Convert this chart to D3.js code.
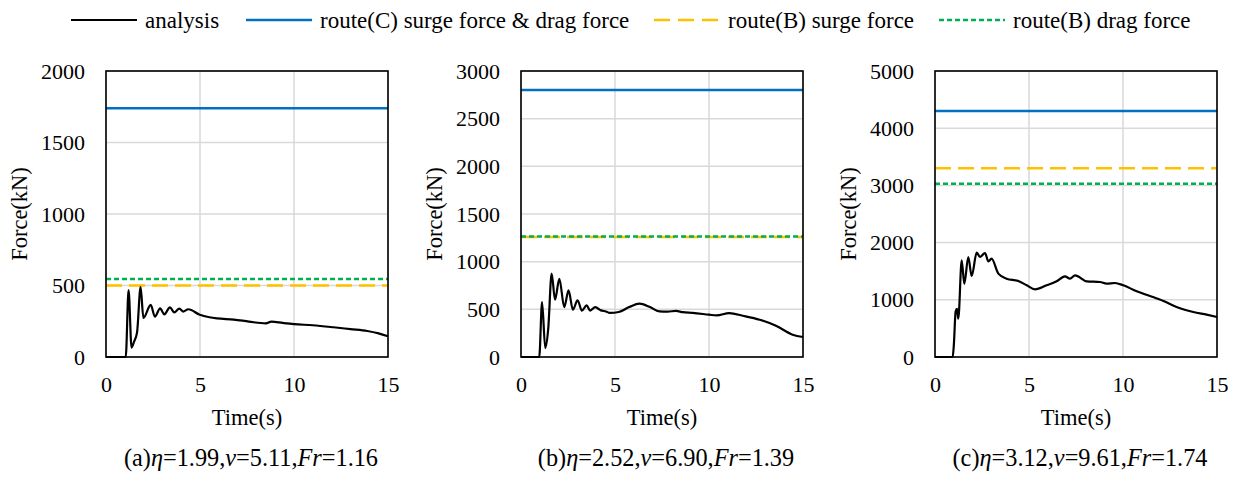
<!DOCTYPE html>
<html>
<head>
<meta charset="utf-8">
<script src="https://cdn.jsdelivr.net/npm/d3@7"></script>
<style>
  body { margin: 0; background: #fff; }
  text { font-family: "Liberation Serif", "Times New Roman", serif; fill: #000; }
  .tick text { font-family: "Liberation Serif", "Times New Roman", serif; font-size: 22px; fill: #000; }
</style>
</head>
<body>
<svg id="chart" width="1233" height="477"></svg>
<script>
// time (s) / force (kN)
var timeA  = [0, 1.05, 1.2, 1.36, 1.5, 1.65, 1.84, 1.99, 2.38, 2.6, 2.88, 3.1, 3.4, 3.63, 3.9, 4.1, 4.38, 4.99, 5.5, 5.9, 6.8, 7.6, 8.5, 8.8, 9.4, 10, 11, 12.1, 13, 13.9, 14.5, 15]
var forceA = [0, 0, 468, 66, 110, 170, 488, 273, 364, 283, 340, 298, 347, 312, 338, 318, 334, 295, 278, 270, 262, 248, 235, 247, 238, 230, 222, 208, 195, 182, 165, 145]

var timeB  = [0, 0.97, 1.12, 1.29, 1.45, 1.63, 1.81, 2.04, 2.3, 2.53, 2.76, 3.01, 3.24, 3.49, 3.68, 3.95, 4.25, 4.52, 4.72, 5.2, 5.76, 6.3, 6.83, 7.36, 7.8, 8.24, 8.6, 9.13, 10, 10.4, 11.08, 11.79, 12.7, 13.56, 14.45, 15]
var forceB = [0, 0, 577, 94, 300, 876, 601, 820, 524, 698, 496, 595, 486, 541, 486, 524, 489, 478, 462, 472, 524, 559, 527, 478, 475, 484, 470, 462, 444, 436, 460, 433, 391, 328, 234, 210]

var timeC  = [0, 0.94, 1.0, 1.1, 1.17, 1.24, 1.42, 1.56, 1.77, 1.95, 2.22, 2.39, 2.66, 2.84, 3.01, 3.37, 3.81, 4.43, 4.88, 5.32, 5.94, 6.47, 6.91, 7.18, 7.45, 8.07, 8.78, 9.13, 9.57, 10.02, 10.73, 11.44, 12.15, 12.85, 13.74, 14.45, 15]
var forceC = [0, 0, 200, 800, 840, 670, 1690, 1280, 1748, 1416, 1824, 1748, 1818, 1672, 1719, 1457, 1369, 1329, 1253, 1183, 1253, 1323, 1410, 1369, 1428, 1323, 1311, 1282, 1294, 1253, 1148, 1066, 979, 874, 787, 740, 700]

// constant reference forces: route(C), route(B) surge, route(B) drag
var routeC      = [1740, 2800, 4300]
var routeBsurge = [500, 1260, 3300]
var routeBdrag  = [545, 1265, 3030]

var yMax   = [2000, 3000, 5000]
var yStep  = [500, 500, 1000]
var xTicks = [0, 5, 10, 15]

var captionLetters = ["(a)", "(b)", "(c)"]
var etaVals = ["1.99", "2.52", "3.12"]
var vVals   = ["5.11", "6.90", "9.61"]
var frVals  = ["1.16", "1.39", "1.74"]

var legendNames = ["analysis", "route(C) surge force & drag force", "route(B) surge force", "route(B) drag force"]

var colors = { analysis: "#000000", c: "#0070C0", surge: "#FFC000", drag: "#00B050" }

var svg = d3.select("#chart")

var times = [timeA, timeB, timeC]
var forces = [forceA, forceB, forceC]
var plotLeft = [106, 521, 935]
var plotW = 282, plotTop = 71, plotBottom = 357

for (let p = 0; p < 3; p++) {
  var x = d3.scaleLinear().domain([0, 15]).range([plotLeft[p], plotLeft[p] + plotW])
  var y = d3.scaleLinear().domain([0, yMax[p]]).range([plotBottom, plotTop])
  var yTicks = d3.range(0, yMax[p] + 1, yStep[p])
  var g = svg.append("g")

  // grid
  g.selectAll(".hgrid").data(yTicks).join("line")
    .attr("x1", x(0)).attr("x2", x(15))
    .attr("y1", d => y(d)).attr("y2", d => y(d))
    .attr("stroke", "#d9d9d9").attr("stroke-width", 1.5)
  g.selectAll(".vgrid").data(xTicks).join("line")
    .attr("x1", d => x(d)).attr("x2", d => x(d))
    .attr("y1", y(0)).attr("y2", y(yMax[p]))
    .attr("stroke", "#d9d9d9").attr("stroke-width", 1.5)

  // axes (labels only, frame drawn separately)
  var yAxis = g.append("g")
    .attr("transform", "translate(" + x(0) + ",0)")
    .call(d3.axisLeft(y).tickValues(yTicks).tickFormat(d3.format("d")).tickSize(0).tickPadding(21))
  var xAxis = g.append("g")
    .attr("transform", "translate(0," + y(0) + ")")
    .call(d3.axisBottom(x).tickValues(xTicks).tickFormat(d3.format("d")).tickSize(0).tickPadding(19))
  yAxis.attr("font-family", null).attr("font-size", null)
  xAxis.attr("font-family", null).attr("font-size", null)
  yAxis.select(".domain").remove()
  xAxis.select(".domain").remove()

  // horizontal reference lines
  var refs = [
    { v: routeC[p], c: colors.c, dash: null },
    { v: routeBsurge[p], c: colors.surge, dash: "16,7" },
    { v: routeBdrag[p], c: colors.drag, dash: "5,3" }
  ]
  g.selectAll(".ref").data(refs).join("line")
    .attr("x1", x(0)).attr("x2", x(15))
    .attr("y1", d => y(d.v)).attr("y2", d => y(d.v))
    .attr("stroke", d => d.c).attr("stroke-width", 2.5)
    .attr("stroke-dasharray", d => d.dash)

  // analysis curve
  var pts = times[p].map((t, i) => [t, forces[p][i]])
  g.append("path")
    .datum(pts)
    .attr("fill", "none")
    .attr("stroke", colors.analysis)
    .attr("stroke-width", 2.2)
    .attr("stroke-linejoin", "round")
    .attr("d", d3.line().x(d => x(d[0])).y(d => y(d[1])).curve(d3.curveMonotoneX))

  // frame
  g.append("rect")
    .attr("x", x(0)).attr("y", y(yMax[p]))
    .attr("width", plotW).attr("height", plotBottom - plotTop)
    .attr("fill", "none").attr("stroke", "#000").attr("stroke-width", 1.6)

  // axis titles
  g.append("text")
    .attr("transform", "translate(" + (x(0) - 84) + "," + ((plotTop + plotBottom) / 2) + ") rotate(-90)")
    .attr("text-anchor", "middle").attr("dominant-baseline", "middle")
    .style("font-size", "22.5px")
    .text("Force(kN)")
  g.append("text")
    .attr("x", x(7.5)).attr("y", 425)
    .attr("text-anchor", "middle")
    .style("font-size", "22.5px")
    .text("Time(s)")

  // caption
  var cap = g.append("text")
    .attr("x", x(7.5) + 4).attr("y", 466)
    .attr("text-anchor", "middle")
    .style("font-size", "24.3px")
  cap.append("tspan").text(captionLetters[p])
  cap.append("tspan").style("font-style", "italic").text("η")
  cap.append("tspan").text("=" + etaVals[p] + ",")
  cap.append("tspan").style("font-style", "italic").text("v")
  cap.append("tspan").text("=" + vVals[p] + ",")
  cap.append("tspan").style("font-style", "italic").text("Fr")
  cap.append("tspan").text("=" + frVals[p])
}

// legend
var legendX = [71, 246, 654, 939]
var legendStyle = [
  { c: colors.analysis, dash: null, w: 2.2 },
  { c: colors.c, dash: null, w: 2.5 },
  { c: colors.surge, dash: "16,8", w: 2.5 },
  { c: colors.drag, dash: "5,3", w: 2.5 }
]
var leg = svg.append("g").selectAll("g").data(legendNames).join("g")
  .attr("transform", (d, i) => "translate(" + legendX[i] + ",20)")
leg.append("line")
  .attr("x1", 0).attr("x2", 66)
  .attr("stroke", (d, i) => legendStyle[i].c)
  .attr("stroke-width", (d, i) => legendStyle[i].w)
  .attr("stroke-dasharray", (d, i) => legendStyle[i].dash)
leg.append("text")
  .attr("x", 74).attr("dy", "0.33em")
  .style("font-size", "23px")
  .text(d => d)
</script>
</body>
</html>
